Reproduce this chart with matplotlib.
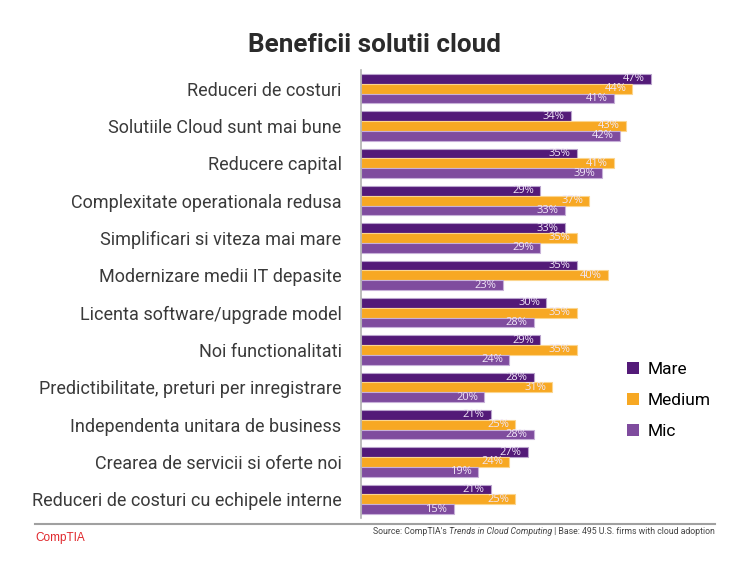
import numpy as np
import matplotlib
matplotlib.use("Agg")
import matplotlib.pyplot as plt
from matplotlib.patches import Patch

plt.rcParams['font.family'] = ['Roboto', 'DejaVu Sans']

categories = [
    "Reduceri de costuri",
    "Solutiile Cloud sunt mai bune",
    "Reducere capital",
    "Complexitate operationala redusa",
    "Simplificari si viteza mai mare",
    "Modernizare medii IT depasite",
    "Licenta software/upgrade model",
    "Noi functionalitati",
    "Predictibilitate, preturi per inregistrare",
    "Independenta unitara de business",
    "Crearea de servicii si oferte noi",
    "Reduceri de costuri cu echipele interne",
]
mare = [47, 34, 35, 29, 33, 35, 30, 29, 28, 21, 27, 21]
medium = [44, 43, 41, 37, 35, 40, 35, 35, 31, 25, 24, 25]
mic = [41, 42, 39, 33, 29, 23, 28, 24, 20, 28, 19, 15]
series_names = ["Mare", "Medium", "Mic"]

colors = ["#531a78", "#f7a823", "#7f4c9e"]
edges = ["#b9a3cc", "#fbd58e", "#c7b0d8"]

fig = plt.figure(figsize=(7.5, 5.62), dpi=100)
ax = fig.add_axes([361 / 750, 1 - 518 / 562, (680 - 361) / 750, 448 / 562])

y = np.arange(len(categories))
h = 0.265
for k, vals in enumerate([mare, medium, mic]):
    pos = y + (k - 1) * h
    ax.barh(pos, vals, height=h * 0.98, color=colors[k], edgecolor=edges[k], linewidth=0.8)
    for p, v in zip(pos, vals):
        ax.text(v - 1.0, p, f"{v}%", ha='right', va='center', fontsize=8,
                color="#f0e6f7", family=['Open Sans', 'DejaVu Sans'])

ax.set_xlim(0, 51.7)
ax.set_ylim(len(categories) - 0.5, -0.5)
ax.set_yticks(y)
ax.set_yticklabels(categories, fontsize=13, color="#3a3a3a")
ax.tick_params(axis='y', length=0, pad=14)
ax.set_xticks([])
for s in ['top', 'right', 'bottom']:
    ax.spines[s].set_visible(False)
ax.spines['left'].set_color('#b0b0b0')
ax.spines['left'].set_linewidth(1.2)

fig.text(374 / 750, 1 - 45 / 562, "Beneficii solutii cloud", ha='center', va='center',
         fontsize=18.7, fontweight='bold', color="#2b2b2b")

handles = [Patch(facecolor=colors[i], edgecolor='none') for i in range(3)]
fig.legend(handles, series_names, loc='upper left', bbox_to_anchor=(611 / 750, 1 - 346 / 562),
           frameon=False, fontsize=12.5, handlelength=0.7, handleheight=0.7,
           labelspacing=0.92, handletextpad=0.5)

# bottom rule and footer
fig.add_artist(plt.Line2D([35 / 750, 715 / 750], [1 - 524 / 562, 1 - 524 / 562],
                          color="#a0a0a0", linewidth=1.5, transform=fig.transFigure))
fig.text(35 / 750, 1 - 538 / 562, "CompTIA", ha='left', va='center', fontsize=8.5,
         color="#e0262b", family=['Liberation Sans', 'DejaVu Sans'])

t1 = fig.text(373 / 750, 1 - 531 / 562, "Source: CompTIA's ", ha='left', va='center',
              fontsize=6.3, color="#444444")
t2 = fig.text(0, 0, "Trends in Cloud Computing", fontsize=6.3, style='italic', color="#444444")
t3 = fig.text(0, 0, " | Base: 495 U.S. firms with cloud adoption", fontsize=6.3, color="#444444")
fig.canvas.draw()
r = fig.canvas.get_renderer()
bb1 = t1.get_window_extent(r)
t2.set_position((bb1.x1 / fig.bbox.width, 1 - 531 / 562))
t2.set_va('center')
fig.canvas.draw()
bb2 = t2.get_window_extent(r)
t3.set_position((bb2.x1 / fig.bbox.width, 1 - 531 / 562))
t3.set_va('center')

fig.savefig("out.png", dpi=100)
